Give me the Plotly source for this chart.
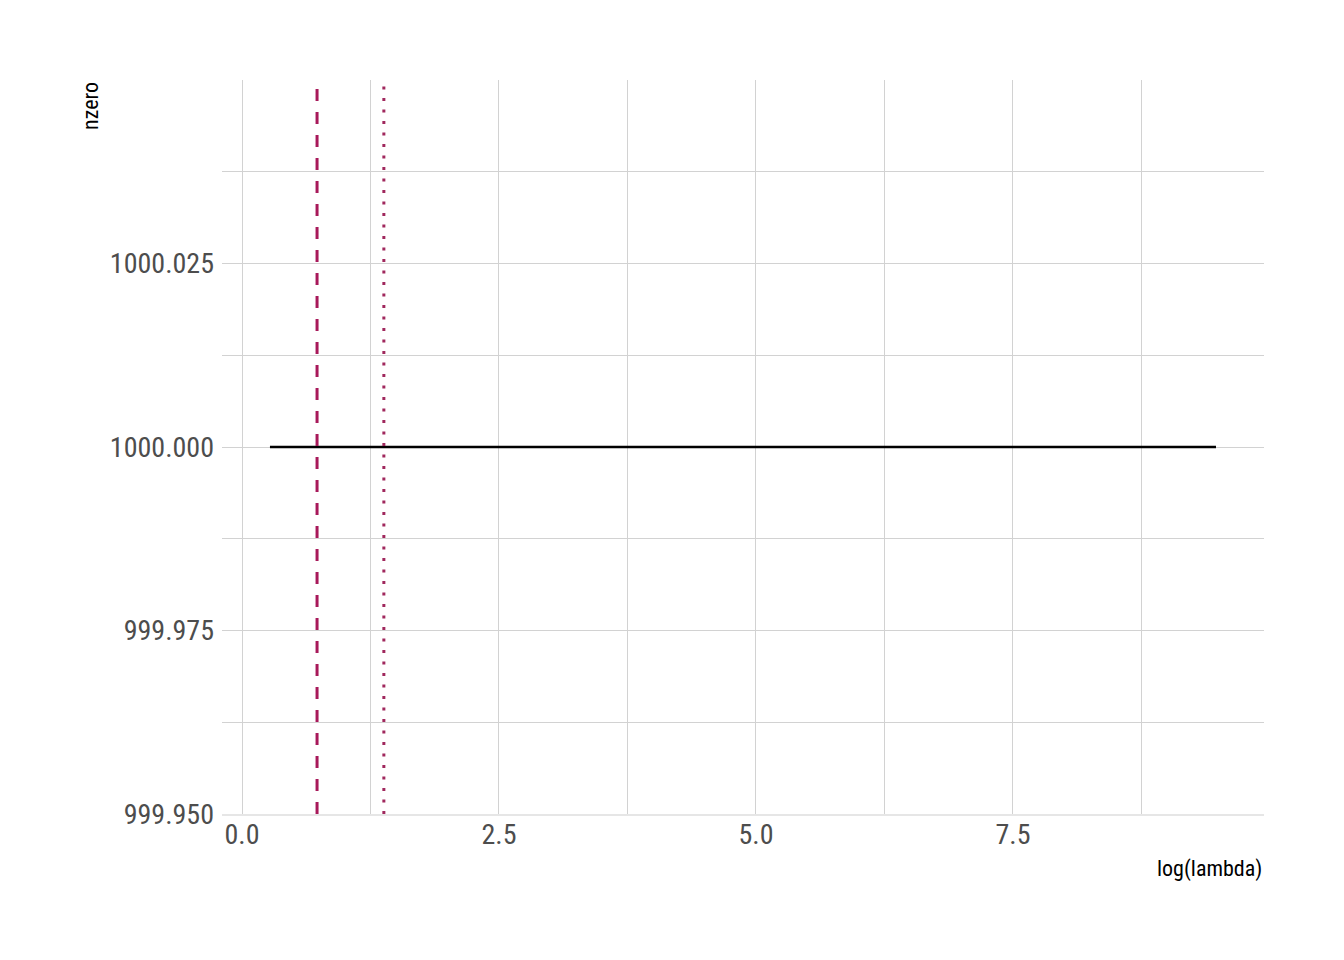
import plotly.graph_objects as go

# data
log_lambda = [0.272, 9.475]
nzero = [1000, 1000]
lambda_min_log = 0.73
lambda_1se_log = 1.38

x_ticks = [0, 2.5, 5, 7.5]
x_ticklabels = ["0.0", "2.5", "5.0", "7.5"]
y_ticks = [999.95, 999.975, 1000.0, 1000.025]
y_ticklabels = ["999.950", "999.975", "1000.000", "1000.025"]

FONT = "Roboto Condensed, Arial Narrow, sans-serif"
GRID = "#d2d2d2"

fig = go.Figure()
fig.add_trace(go.Scatter(x=log_lambda, y=nzero, mode="lines",
                         line=dict(color="black", width=2.5), showlegend=False,
                         hoverinfo="skip"))

fig.add_vline(x=lambda_min_log, line=dict(color="#a8195a", width=3, dash="12px,11px"))
fig.add_vline(x=lambda_1se_log, line=dict(color="#a0285d", width=3, dash="3px,8.5px"))

W, H = 1336, 952
L, R, T, B = 214, 80, 72, 146
pw, ph = W - L - R, H - T - B

fig.update_layout(
    width=W, height=H,
    paper_bgcolor="white", plot_bgcolor="white",
    margin=dict(l=L, r=R, t=T, b=B, autoexpand=False),
    font=dict(family=FONT, color="#4d4d4d"),
    xaxis=dict(
        range=[-0.1946, 9.942], tickvals=x_ticks, ticktext=x_ticklabels,
        showgrid=True, gridcolor=GRID, gridwidth=1.2,
        minor=dict(tickvals=[1.25, 3.75, 6.25, 8.75], showgrid=True, gridcolor=GRID, gridwidth=1.2),
        zeroline=False, showline=True, linecolor="#e6e6e6", linewidth=2,
        tickfont=dict(size=28, family=FONT, color="#4d4d4d"),
        ticks="", ticklabelstandoff=-6,
    ),
    yaxis=dict(
        range=[999.95, 1000.05], tickvals=y_ticks, ticktext=y_ticklabels,
        showgrid=True, gridcolor=GRID, gridwidth=1.2,
        minor=dict(tickvals=[999.9625, 999.9875, 1000.0125, 1000.0375], showgrid=True, gridcolor=GRID, gridwidth=1.2),
        zeroline=False, showline=False,
        tickfont=dict(size=28, family=FONT, color="#4d4d4d"),
        ticks="", ticklabelstandoff=7,
    ),
)

fig.add_annotation(text="nzero", xref="paper", yref="paper",
                   x=-(L - 82) / pw, y=1.0, xanchor="center", yanchor="top",
                   textangle=-90, showarrow=False,
                   font=dict(size=22, family=FONT, color="black"))
fig.add_annotation(text="log(lambda)", xref="paper", yref="paper",
                   x=1.0, y=-(861 - (H - B)) / ph, xanchor="right", yanchor="middle",
                   showarrow=False,
                   font=dict(size=22, family=FONT, color="black"))

fig.write_html("out.html")
